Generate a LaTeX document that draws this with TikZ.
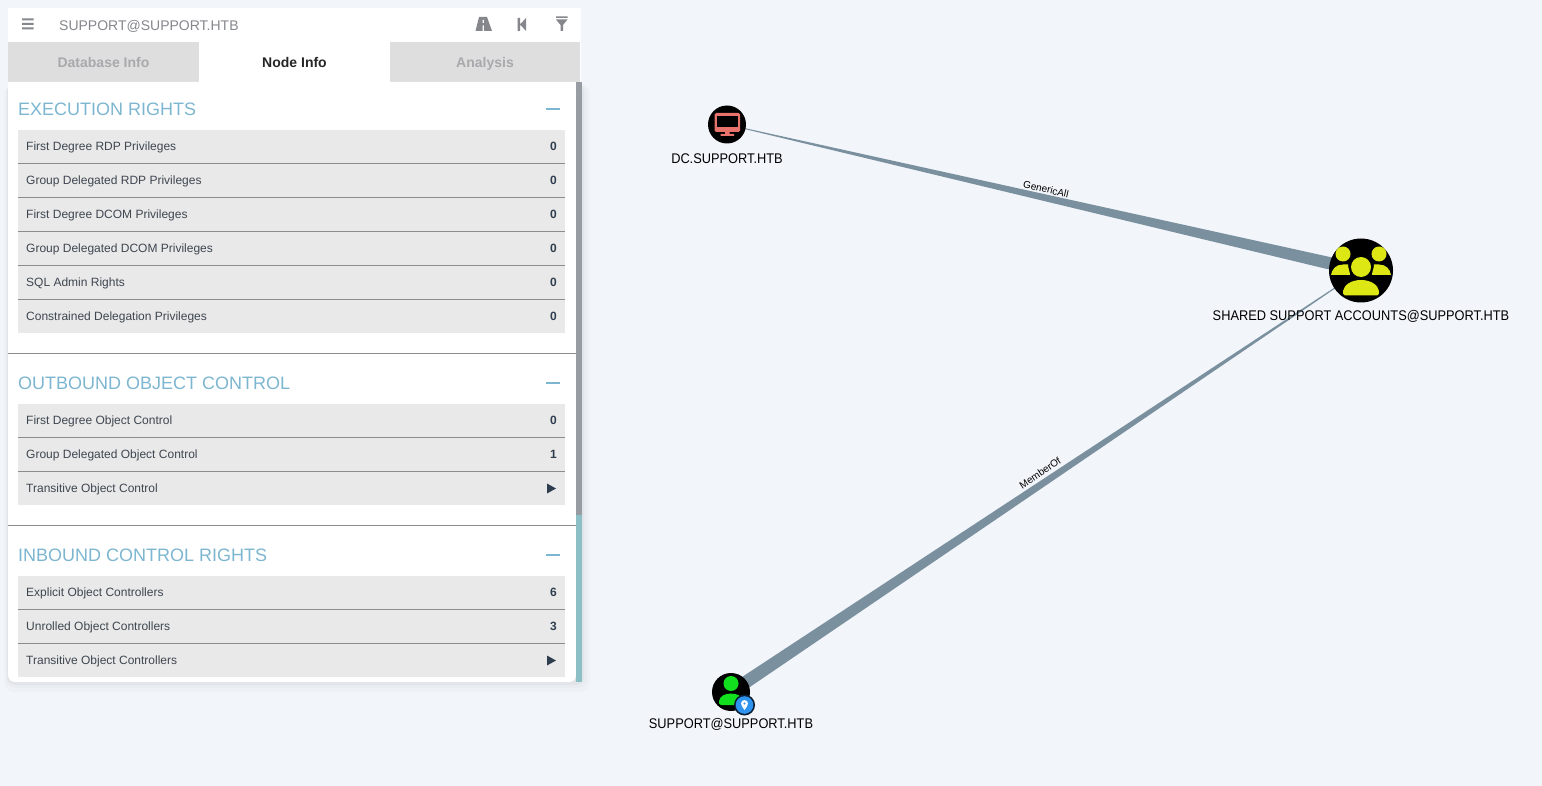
\documentclass[tikz,border=0pt]{standalone}
\usepackage{fontspec}
\setmainfont{Liberation Sans}
\newfontfamily\graphfont[FakeStretch=0.915]{Liberation Sans}
\usepackage{tikz}
\usetikzlibrary{calc}

\definecolor{pagebg}{HTML}{F2F5FA}
\definecolor{tabgray}{HTML}{DEDEDE}
\definecolor{rowgray}{HTML}{E9E9E9}
\definecolor{rowline}{HTML}{8C8C8C}
\definecolor{headtext}{HTML}{85878C}
\definecolor{tabtext}{HTML}{A9A9AD}
\definecolor{sectionblue}{HTML}{7DB6D0}
\definecolor{rowtext}{HTML}{3E4650}
\definecolor{slate}{HTML}{2F3E4E}
\definecolor{edgegray}{HTML}{7A909E}
\definecolor{scrollgray}{HTML}{979BA2}
\definecolor{scrollteal}{HTML}{8DBFC6}
\definecolor{salmon}{HTML}{E7736C}
\definecolor{groupyellow}{HTML}{DDE714}
\definecolor{usergreen}{HTML}{12E01E}
\definecolor{badgeblue}{HTML}{2F93F0}

\tikzset{
	rowbox/.style={fill=rowgray, minimum width=547pt, minimum height=33pt, inner sep=0pt, outer sep=0pt},
	rowname/.style={anchor=base west, text=rowtext, inner sep=0pt, font=\fontsize{12}{14}\selectfont},
	rowvalue/.style={anchor=east, text=slate, inner sep=0pt, font=\bfseries\fontsize{12}{14}\selectfont},
	section/.style={anchor=west, text=sectionblue, inner sep=0pt, font=\fontsize{18}{20}\selectfont},
	tabname/.style={anchor=base, text=tabtext, inner sep=0pt, font=\bfseries\fontsize{14}{16}\selectfont},
	graphnode/.style={circle, fill=black, inner sep=0pt},
	graphlabel/.style={anchor=base, text=black, inner sep=0pt, font=\graphfont\fontsize{14}{16}\selectfont},
	edgelabel/.style={text=black, inner sep=0pt, font=\fontsize{10}{12}\selectfont},
}

\newcommand{\statrow}[4]{
	\node[rowbox, anchor=north west] (#1) at (18,#2) {};
	\node[rowname] (#1-name) at ($(#1.west)+(8,4)$) {#3};
	\node[rowvalue] (#1-value) at ($(#1.east)+(-8pt,0)$) {#4};
}
\newcommand{\openrow}[3]{
	\node[rowbox, anchor=north west] (#1) at (18,#2) {};
	\node[rowname] (#1-name) at ($(#1.west)+(8,4)$) {#3};
	\fill[slate] ($(#1.east)+(-18pt,5pt)$) -- ($(#1.east)+(-18pt,-5pt)$) -- ($(#1.east)+(-9pt,0)$) -- cycle;
}
\newcommand{\rowsep}[1]{
	\draw[rowline, line width=1pt] (18,#1) -- (565,#1);
}
\newcommand{\taperedge}[4]{
	\fill[edgegray] ($(#1)!#3!90:(#2)$) -- ($(#2)!#4!-90:(#1)$) -- ($(#2)!#4!90:(#1)$) -- ($(#1)!#3!-90:(#2)$) -- cycle;
}

\begin{document}
\begin{tikzpicture}[x=1pt,y=-1pt]
	\useasboundingbox (0,0) rectangle (1542,786);
	\fill[pagebg] (0,0) rectangle (1542,786);

	% panel shadow
	\fill[black, opacity=.015, rounded corners=10pt] (4,84) rectangle (590,692);
	\fill[black, opacity=.02, rounded corners=9pt] (6,84) rectangle (587,688);
	\fill[black, opacity=.03, rounded corners=8pt] (7,84) rectangle (584,685);

	% header and tabs
	\fill[white] (8,8) rectangle (581,82);
	\fill[tabgray] (8,42) rectangle (199,82);
	\fill[tabgray] (390,42) rectangle (580,82);
	\node[anchor=west, text=headtext, inner sep=0pt, font=\fontsize{14}{16}\selectfont] (title) at (59,26.2) {SUPPORT@SUPPORT.HTB};
	\node[tabname] (dbtab) at (103.5,67.6) {Database Info};
	\node[tabname, text=black!85] (infotab) at (294.5,67.6) {Node Info};
	\node[tabname] (analysistab) at (485,67.6) {Analysis};

	% toolbar icons
	\fill[headtext] (22,18.5) rectangle (33.5,20.5) (22,23) rectangle (33.5,25) (22,27.5) rectangle (33.5,29.5);
	\fill[headtext] (479,17) -- (487,17) -- (492,31) -- (475.5,31) -- cycle;
	\fill[white] (482.5,20) rectangle (483.8,23) (482.5,25.5) rectangle (483.8,31);
	\fill[headtext] (517.5,18) rectangle (520,31) (526,18) -- (526,31) -- (520,24.5) -- cycle;
	\fill[headtext] (556,16.5) rectangle (567.5,18) (556,19.5) -- (567.5,19.5) -- (563,25) -- (563,31) -- (560.5,31) -- (560.5,25) -- cycle;

	% panel body
	\fill[white] (8,82) [rounded corners=7pt] -- (8,682) -- (576,682) [sharp corners] -- (576,82) -- cycle;
	\fill[white, rounded corners=6pt] (8,84) rectangle (60,110);
	\fill[scrollgray] (576,82) rectangle (582,515);
	\fill[scrollteal] (576,515) rectangle (582,682);

	% execution rights
	\node[section] (execution) at (18,109) {EXECUTION RIGHTS};
	\draw[sectionblue, line width=2pt] (546,109) -- (560,109);
	\statrow{rdp}{130}{First Degree RDP Privileges}{0}
	\statrow{grouprdp}{164}{Group Delegated RDP Privileges}{0}
	\statrow{dcom}{198}{First Degree DCOM Privileges}{0}
	\statrow{groupdcom}{232}{Group Delegated DCOM Privileges}{0}
	\statrow{sqladmin}{266}{SQL Admin Rights}{0}
	\statrow{constrained}{300}{Constrained Delegation Privileges}{0}
	\rowsep{163.5}
	\rowsep{197.5}
	\rowsep{231.5}
	\rowsep{265.5}
	\rowsep{299.5}
	\draw[rowline, line width=1pt] (8,353.5) -- (576,353.5);

	% outbound object control
	\node[section] (outbound) at (18,383) {OUTBOUND OBJECT CONTROL};
	\draw[sectionblue, line width=2pt] (546,383) -- (560,383);
	\statrow{firstobject}{404}{First Degree Object Control}{0}
	\statrow{groupobject}{438}{Group Delegated Object Control}{1}
	\openrow{transobject}{472}{Transitive Object Control}
	\rowsep{437.5}
	\rowsep{471.5}
	\draw[rowline, line width=1pt] (8,525.5) -- (576,525.5);

	% inbound control rights
	\node[section] (inbound) at (18,555) {INBOUND CONTROL RIGHTS};
	\draw[sectionblue, line width=2pt] (546,555) -- (560,555);
	\statrow{explicit}{576}{Explicit Object Controllers}{6}
	\statrow{unrolled}{610}{Unrolled Object Controllers}{3}
	\openrow{transctrl}{644}{Transitive Object Controllers}
	\rowsep{609.5}
	\rowsep{643.5}

	% graph
	\coordinate (dc) at (727,124.5);
	\coordinate (shared) at (1361,270.5);
	\coordinate (support) at (731,692);
	\taperedge{dc}{shared}{.3pt}{6.5pt}
	\taperedge{shared}{support}{.3pt}{6.5pt}
	\node[graphnode, minimum size=38pt] (dcnode) at (dc) {};
	\node[graphnode, minimum size=64pt] (sharednode) at (shared) {};
	\node[graphnode, minimum size=38pt] (supportnode) at (support) {};

	\node[edgelabel, rotate=-13] (genericall) at (1046,189) {GenericAll};
	\node[edgelabel, rotate=34] (memberof) at (1040,473) {MemberOf};
	\node[graphlabel] (dclabel) at (727,163.5) {DC.SUPPORT.HTB};
	\node[graphlabel] (sharedlabel) at (1361,320.6) {SHARED SUPPORT ACCOUNTS@SUPPORT.HTB};
	\node[graphlabel] (supportlabel) at (731,728.6) {SUPPORT@SUPPORT.HTB};

	% computer icon
	\fill[salmon, rounded corners=1.5pt] (714.5,113) rectangle (740,132);
	\fill[black] (716.5,116) rectangle (737.5,127);
	\fill[salmon] (725,132) rectangle (729.5,134) (720.5,134) rectangle (734,136);

	% group icon
	\fill[groupyellow] (1361,267) circle (10pt) (1343,254) circle (7.5pt) (1379,254) circle (7.5pt);
	\fill[groupyellow] (1345,295.5) .. controls (1343,295.5) and (1343,293) .. (1343,291) .. controls (1344,285) and (1351,280) .. (1361,280) .. controls (1371,280) and (1378,285) .. (1379,291) .. controls (1379,293) and (1379,295.5) .. (1377,295.5) -- cycle;
	\fill[groupyellow] (1331,275) .. controls (1332,269) and (1336,264.5) .. (1343,264.5) -- (1348,264.5) .. controls (1348,268) and (1350,272) .. (1350,275) -- cycle;
	\fill[groupyellow] (1391,275) .. controls (1390,269) and (1386,264.5) .. (1379,264.5) -- (1374,264.5) .. controls (1374,268) and (1372,272) .. (1372,275) -- cycle;

	% user icon
	\fill[usergreen] (731,683.5) circle (7.5pt);
	\fill[usergreen] (721,705) .. controls (719,705) and (719,703) .. (719,701) .. controls (720,696) and (725,693.5) .. (731,693.5) .. controls (737,693.5) and (742,696) .. (743,701) .. controls (743,703) and (743,705) .. (741,705) -- cycle;
	\fill[black!80!badgeblue] (744.5,705) circle (10.5pt);
	\fill[badgeblue] (744.5,705) circle (8.8pt);
	\fill[white] (744.5,710) .. controls (742.5,707) and (741,705.5) .. (741,703.5) .. controls (741,699) and (748,699) .. (748,703.5) .. controls (748,705.5) and (746.5,707) .. (744.5,710) -- cycle;
	\fill[badgeblue] (744.5,703.5) circle (1.2pt);
\end{tikzpicture}
\end{document}
